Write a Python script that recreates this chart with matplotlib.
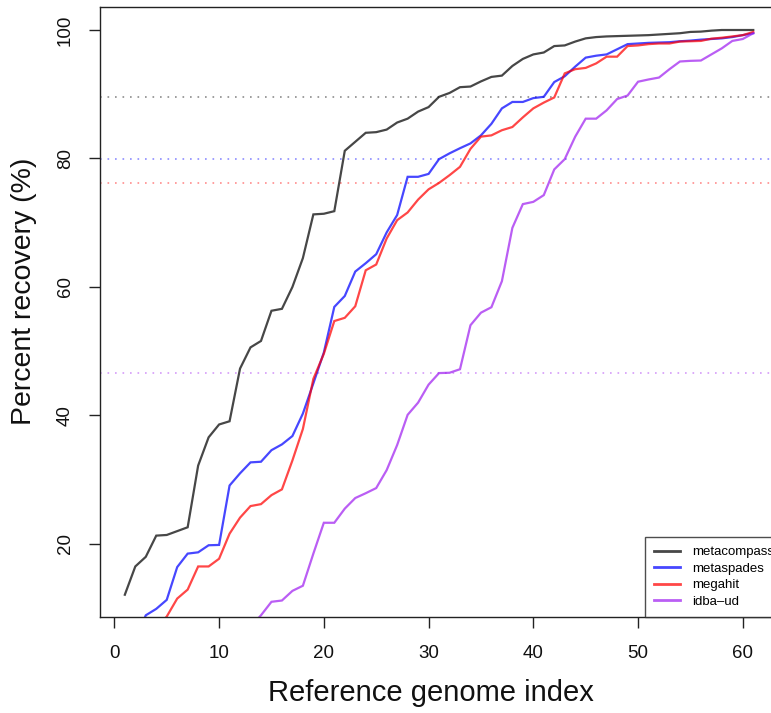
import numpy as np
import matplotlib
matplotlib.use("Agg")
import matplotlib.pyplot as plt
from matplotlib.colors import to_rgba

plt.rcParams["font.family"] = ["Liberation Sans", "DejaVu Sans"]

# Percent recovery per reference genome, sorted ascending, for each assembler
genome_index = np.arange(1, 62)

metacompass = [12.1, 16.5, 18.0, 21.3, 21.4, 22.0, 22.6, 32.2, 36.6, 38.6,
               39.1, 47.3, 50.6, 51.6, 56.3, 56.6, 60.0, 64.5, 71.3, 71.4,
               71.8, 81.2, 82.6, 84.0, 84.1, 84.5, 85.6, 86.2, 87.3, 88.0,
               89.6, 90.2, 91.1, 91.2, 92.0, 92.7, 92.9, 94.4, 95.5, 96.2,
               96.5, 97.5, 97.6, 98.2, 98.7, 98.9, 99.0, 99.05, 99.1, 99.15,
               99.2, 99.3, 99.4, 99.5, 99.7, 99.75, 99.9, 100.0, 100.0, 100.0, 100.0]

metaspades = [3.0, 5.0, 8.9, 9.9, 11.3, 16.4, 18.5, 18.7, 19.8, 19.85,
              29.1, 31.0, 32.7, 32.8, 34.6, 35.5, 36.8, 40.3, 45.0, 49.8,
              56.9, 58.6, 62.4, 63.7, 65.1, 68.5, 71.2, 77.15, 77.15, 77.6,
              79.9, 80.8, 81.6, 82.35, 83.6, 85.4, 87.8, 88.8, 88.8, 89.4,
              89.6, 91.9, 92.8, 94.3, 95.7, 96.0, 96.2, 97.0, 97.8, 97.9,
              98.0, 98.05, 98.1, 98.25, 98.35, 98.5, 98.6, 98.7, 98.9, 99.2, 99.5]

megahit = [3.0, 4.5, 6.0, 7.0, 8.7, 11.5, 12.9, 16.5, 16.5, 17.7,
           21.6, 24.1, 25.9, 26.2, 27.6, 28.5, 33.0, 37.9, 45.7, 49.6,
           54.7, 55.2, 57.0, 62.6, 63.5, 67.55, 70.4, 71.6, 73.6, 75.2,
           76.2, 77.4, 78.7, 81.5, 83.4, 83.6, 84.4, 84.9, 86.4, 87.8,
           88.7, 89.5, 93.25, 93.9, 94.1, 94.8, 95.85, 95.85, 97.5, 97.6,
           97.8, 97.9, 97.9, 98.2, 98.25, 98.3, 98.65, 98.8, 99.0, 99.2, 99.7]

idba_ud = [0.4, 0.9, 1.3, 2.1, 2.6, 3.0, 3.8, 4.2, 4.9, 5.3,
           5.9, 6.4, 7.1, 8.9, 11.0, 11.2, 12.7, 13.5, 18.5, 23.3,
           23.3, 25.5, 27.15, 27.9, 28.7, 31.5, 35.4, 40.1, 42.0, 44.8,
           46.6, 46.65, 47.2, 54.05, 56.0, 56.85, 60.9, 69.2, 72.9, 73.25,
           74.3, 78.3, 79.9, 83.4, 86.2, 86.2, 87.5, 89.25, 89.8, 91.95,
           92.3, 92.6, 93.9, 95.1, 95.2, 95.25, 96.2, 97.15, 98.3, 98.6, 99.5]

series_names = ["metacompass", "metaspades", "megahit", "idba\u2013ud"]
series_values = [metacompass, metaspades, megahit, idba_ud]
series_colors = ["black", "blue", "red", "#A020F0"]

x_ticks = [0, 10, 20, 30, 40, 50, 60]
y_ticks = [20, 40, 60, 80, 100]

fig = plt.figure(figsize=(7.71, 7.13), dpi=100)
ax = fig.add_axes([0.1293, 0.1342, 0.8803, 0.8554])

# R-style axis ranges: data range padded by 4% on each side
xr = genome_index.max() - genome_index.min()
ax.set_xlim(genome_index.min() - 0.04 * xr, genome_index.max() + 0.04 * xr)
ylo, yhi = min(metacompass), max(metacompass)
yr = yhi - ylo
ax.set_ylim(ylo - 0.04 * yr, yhi + 0.04 * yr)

# median reference lines
for vals, col in zip(series_values, series_colors):
    ax.axhline(np.median(vals), color=to_rgba(col, 0.45), lw=1.2,
               linestyle=(0, (1, 3.5)), zorder=1)

for name, vals, col in zip(series_names, series_values, series_colors):
    ax.plot(genome_index, vals, color=to_rgba(col, 0.72), lw=1.6,
            label=name, zorder=2, solid_joinstyle="miter")

ax.set_xticks(x_ticks)
ax.set_yticks(y_ticks)
ax.set_yticklabels([str(v) for v in y_ticks], rotation=90, va="center")
ax.tick_params(axis="both", direction="out", length=8, width=1,
               color="#222222", labelsize=13.5, labelcolor="#111111")
ax.tick_params(axis="x", pad=12)
ax.tick_params(axis="y", pad=10.5)

for sp in ax.spines.values():
    sp.set_color("#222222")
    sp.set_linewidth(1.0)

ax.set_xlabel("Reference genome index", fontsize=21, va="center", color="#111111")
ax.set_ylabel("Percent recovery (%)", fontsize=20.5, va="center", color="#111111")
ax.xaxis.set_label_coords(0.488, -0.124)
ax.yaxis.set_label_coords(-0.1115, 0.534)

leg = ax.legend(loc="lower right", bbox_to_anchor=(1.008, 0.0), fontsize=9.5,
                frameon=True, fancybox=False, borderaxespad=0, borderpad=0.72,
                handlelength=2.0, handletextpad=0.9, labelspacing=0.32)
leg.get_frame().set_edgecolor("#222222")
leg.get_frame().set_linewidth(1.0)
for line in leg.get_lines():
    line.set_linewidth(2.0)

fig.savefig("out.png", dpi=100)
